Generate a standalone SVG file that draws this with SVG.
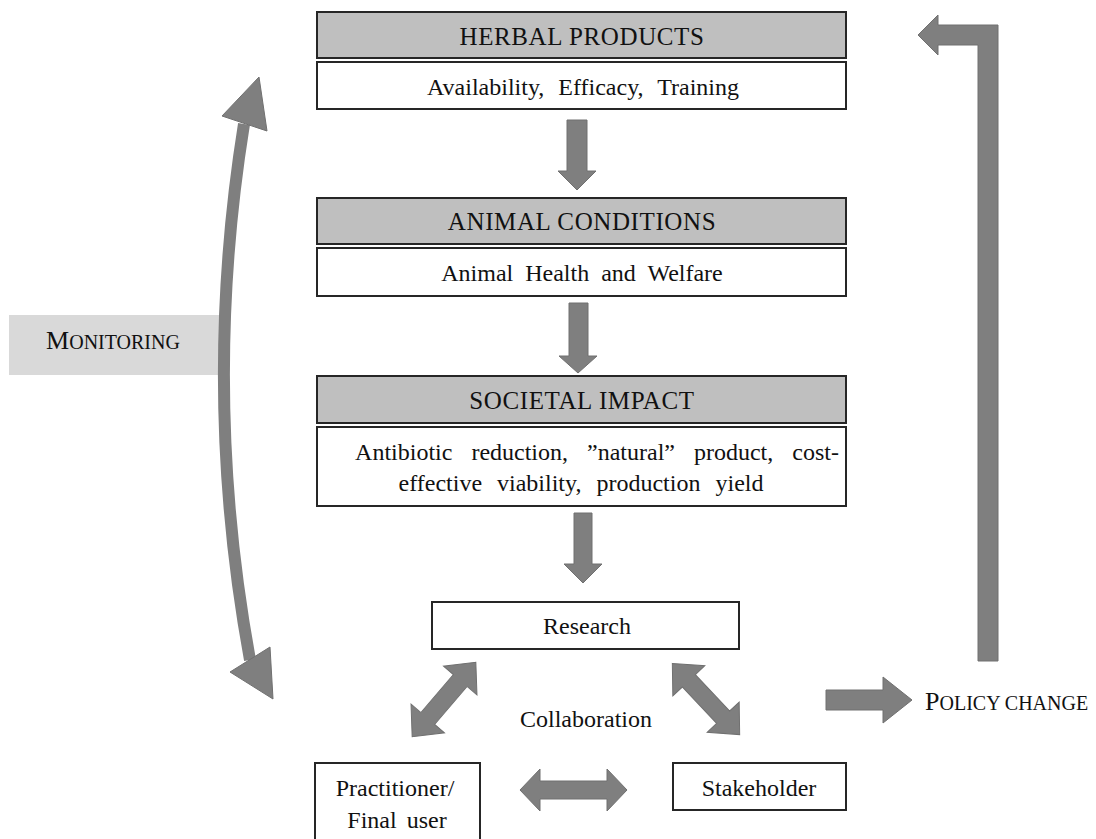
<svg xmlns="http://www.w3.org/2000/svg" width="1096" height="839" viewBox="0 0 1096 839">
<style>
  .hdr { fill:#bfbfbf; stroke:#262626; stroke-width:2; }
  .box { fill:#ffffff; stroke:#262626; stroke-width:2; }
  .t { font-family:"Liberation Serif", "Times New Roman", serif; font-size:24px; fill:#111; text-anchor:middle; }
  .h { font-family:"Liberation Serif", "Times New Roman", serif; font-size:25px; fill:#111; text-anchor:middle; letter-spacing:0.6px; }
  .arr { fill:#7f7f7f; stroke:#707070; stroke-width:1; }
  .sc { font-family:"Liberation Serif", "Times New Roman", serif; fill:#111; }
</style>
<rect width="1096" height="839" fill="#ffffff"/>

<g id="herbal-products">
  <rect class="hdr" x="317" y="12" width="529" height="46"/>
  <text class="h" x="582" y="45">HERBAL PRODUCTS</text>
  <rect class="box" x="317" y="62" width="529" height="47"/>
  <text class="t" x="583" y="95" word-spacing="8">Availability, Efficacy, Training</text>
</g>

<g id="animal-conditions">
  <rect class="hdr" x="317" y="198" width="529" height="46"/>
  <text class="h" x="582" y="230">ANIMAL CONDITIONS</text>
  <rect class="box" x="317" y="248" width="529" height="48"/>
  <text class="t" x="582" y="281" word-spacing="6">Animal Health and Welfare</text>
</g>

<g id="societal-impact">
  <rect class="hdr" x="317" y="376" width="529" height="47"/>
  <text class="h" x="582" y="409">SOCIETAL IMPACT</text>
  <rect class="box" x="317" y="427" width="529" height="79"/>
  <text class="t" x="597" y="460" word-spacing="13">Antibiotic reduction, ”natural” product, cost-</text>
  <text class="t" x="581" y="491" word-spacing="9">effective  viability, production yield</text>
</g>

<g id="research">
  <rect class="box" x="432" y="602" width="307" height="47"/>
  <text class="t" x="587" y="634">Research</text>
</g>

<g id="practitioner">
  <rect class="box" x="315" y="763" width="165" height="90"/>
  <text class="t" x="395" y="796">Practitioner/</text>
  <text class="t" x="397" y="828" word-spacing="4">Final user</text>
</g>

<g id="stakeholder">
  <rect class="box" x="673" y="763" width="173" height="47"/>
  <text class="t" x="759" y="796">Stakeholder</text>
</g>

<g id="monitoring">
  <rect x="9" y="315" width="210" height="60" fill="#d9d9d9"/>
  <text class="sc" x="113" y="349" text-anchor="middle" font-size="26">M<tspan font-size="20">ONITORING</tspan></text>
</g>

<g id="policy-change">
  <text class="sc" x="925" y="710" font-size="26">P<tspan font-size="20">OLICY CHANGE</tspan></text>
</g>

<g id="collaboration-label">
  <text class="t" x="586" y="727">Collaboration</text>
</g>

<g id="connectors">
  <polygon class="arr" points="567,120 587,120 587,171 596,171 577,190 558,171 567,171"/>
  <polygon class="arr" points="569,303 588,303 588,356 597,356 578,373 559,356 569,356"/>
  <polygon class="arr" points="574,513 592,513 592,564 602,564 583,583 564,564 574,564"/>

  <path d="M244,124 Q201,392 250,660" fill="none" stroke="#7f7f7f" stroke-width="12"/>
  <polygon class="arr" points="259,77 222,116 267,131"/>
  <polygon class="arr" points="273,699 230,672 270,647"/>

  <polygon class="arr" points="998,661 998,25 938,25 938,15 918,35 938,55 938,45 978,45 978,661"/>
  <polygon class="arr" points="826,690 883,690 883,677 912,700 883,723 883,710 826,710"/>

  <g transform="translate(444,699.5) rotate(-49.5)">
    <path class="arr" d="M-49,0 L-25,-22 L-25,-9 L25,-9 L25,-22 L49,0 L25,22 L25,9 L-25,9 L-25,22 Z"/>
  </g>
  <g transform="translate(706,699) rotate(46.6)">
    <path class="arr" d="M-49,0 L-25,-22 L-25,-9 L25,-9 L25,-22 L49,0 L25,22 L25,9 L-25,9 L-25,22 Z"/>
  </g>
  <path class="arr" d="M520,790 L540,769 L540,781 L607,781 L607,769 L627,790 L607,811 L607,799 L540,799 L540,811 Z"/>
</g>
</svg>
